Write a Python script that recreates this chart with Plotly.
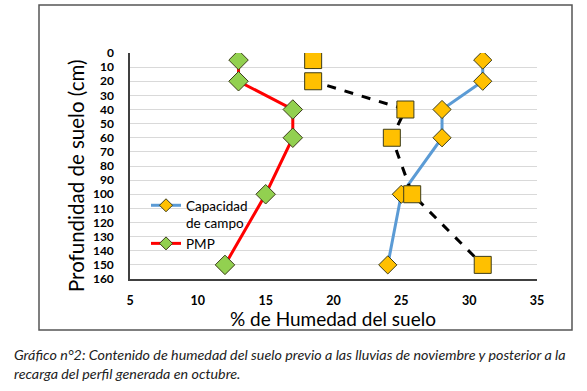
import plotly.graph_objects as go

# Data
depth = [5, 20, 40, 60, 100, 150]
capacidad_campo = [31, 31, 28, 28, 25, 24]
pmp = [13, 13, 17, 17, 15, 12]
humedad_actual = [18.5, 18.5, 25.3, 24.3, 25.8, 31]

x_ticks = [5, 10, 15, 20, 25, 30, 35]
y_ticks = list(range(0, 161, 10))

FONT = "Lato"
W, H = 587, 391
L, R, T, B = 130, 50, 53, 112
PW, PH = W - L - R, H - T - B

def px(xp):
    return (xp - L) / PW

def py(yp):
    return (H - B - yp) / PH

GREEN, YELLOW, EDGE = "#92D050", "#FFC000", "#3d3d1a"

fig = go.Figure()

fig.add_trace(go.Scatter(
    x=pmp, y=depth, mode="lines+markers", name="PMP", showlegend=False,
    line=dict(color="#FF0000", width=3),
    marker=dict(symbol="diamond", size=15, color=GREEN, line=dict(color=EDGE, width=1)),
))
fig.add_trace(go.Scatter(
    x=capacidad_campo, y=depth, mode="lines+markers", name="Capacidad de campo", showlegend=False,
    line=dict(color="#5B9BD5", width=3),
    marker=dict(symbol="diamond", size=14, color=YELLOW, line=dict(color=EDGE, width=1)),
))
fig.add_trace(go.Scatter(
    x=humedad_actual, y=depth, mode="lines+markers", name="Humedad", showlegend=False,
    line=dict(color="#000000", width=3, dash="dash"),
    marker=dict(symbol="square", size=17, color=YELLOW, line=dict(color=EDGE, width=1)),
))
# legend entries (smaller symbols, as in the reference legend)
fig.add_trace(go.Scatter(
    x=[None], y=[None], mode="lines+markers", name="Capacidad<br>de campo",
    line=dict(color="#5B9BD5", width=3),
    marker=dict(symbol="diamond", size=10, color=YELLOW, line=dict(color=EDGE, width=1)),
))
fig.add_trace(go.Scatter(
    x=[None], y=[None], mode="lines+markers", name="PMP",
    line=dict(color="#FF0000", width=3),
    marker=dict(symbol="diamond", size=10, color=GREEN, line=dict(color=EDGE, width=1)),
))

fig.update_layout(
    width=W, height=H,
    margin=dict(l=L, r=R, t=T, b=B),
    paper_bgcolor="white", plot_bgcolor="white",
    font=dict(family=FONT, color="#000000"),
    showlegend=True,
    legend=dict(
        x=px(146), y=py(190), xanchor="left", yanchor="top",
        valign="top", tracegroupgap=0, itemwidth=30,
        bgcolor="rgba(0,0,0,0)", font=dict(family=FONT, size=13.5, color="#000"),
    ),
    xaxis=dict(
        range=[5, 35], tickvals=x_ticks, ticktext=[str(v) for v in x_ticks],
        showgrid=False, zeroline=False,
        showline=True, linecolor="#404040", linewidth=1.5,
        ticks="", tickfont=dict(family=FONT, size=12.5, color="#000", weight="bold"),
        ticklabelstandoff=9,
    ),
    yaxis=dict(
        range=[160, 0], tickvals=y_ticks, ticktext=[str(v) for v in y_ticks],
        showgrid=True, gridcolor="#d9d9d9", gridwidth=1, zeroline=False,
        showline=True, linecolor="#404040", linewidth=1.5,
        ticks="", tickfont=dict(family=FONT, size=12, color="#000", weight="bold"),
        ticklabelstandoff=12,
    ),
    shapes=[dict(
        type="rect", xref="paper", yref="paper",
        x0=px(39), x1=px(572), y0=py(330), y1=py(5),
        line=dict(color="#555555", width=1.5), fillcolor="rgba(0,0,0,0)", layer="below",
    )],
    annotations=[
        dict(xref="paper", yref="paper", x=px(333), y=py(318), xanchor="center", yanchor="middle",
             showarrow=False, text="% de Humedad del suelo",
             font=dict(family=FONT, size=19, color="#000")),
        dict(xref="paper", yref="paper", x=px(76), y=py(176), xanchor="center", yanchor="middle",
             showarrow=False, textangle=-90, text="Profundidad de suelo (cm)",
             font=dict(family=FONT, size=20.5, color="#000")),
        dict(xref="paper", yref="paper", x=px(12), y=py(354), xanchor="left", yanchor="middle",
             showarrow=False, align="left",
             text="<i>Gráfico n°2: Contenido de humedad del suelo previo a las lluvias de noviembre y posterior a la</i>",
             font=dict(family=FONT, size=14.3, color="#222")),
        dict(xref="paper", yref="paper", x=px(12), y=py(373), xanchor="left", yanchor="middle",
             showarrow=False, align="left",
             text="<i>recarga del perfil generada en octubre.</i>",
             font=dict(family=FONT, size=14.3, color="#222")),
    ],
)

fig.write_html("out.html", config={"displayModeBar": False},
               post_script="document.body.style.margin='0';")
